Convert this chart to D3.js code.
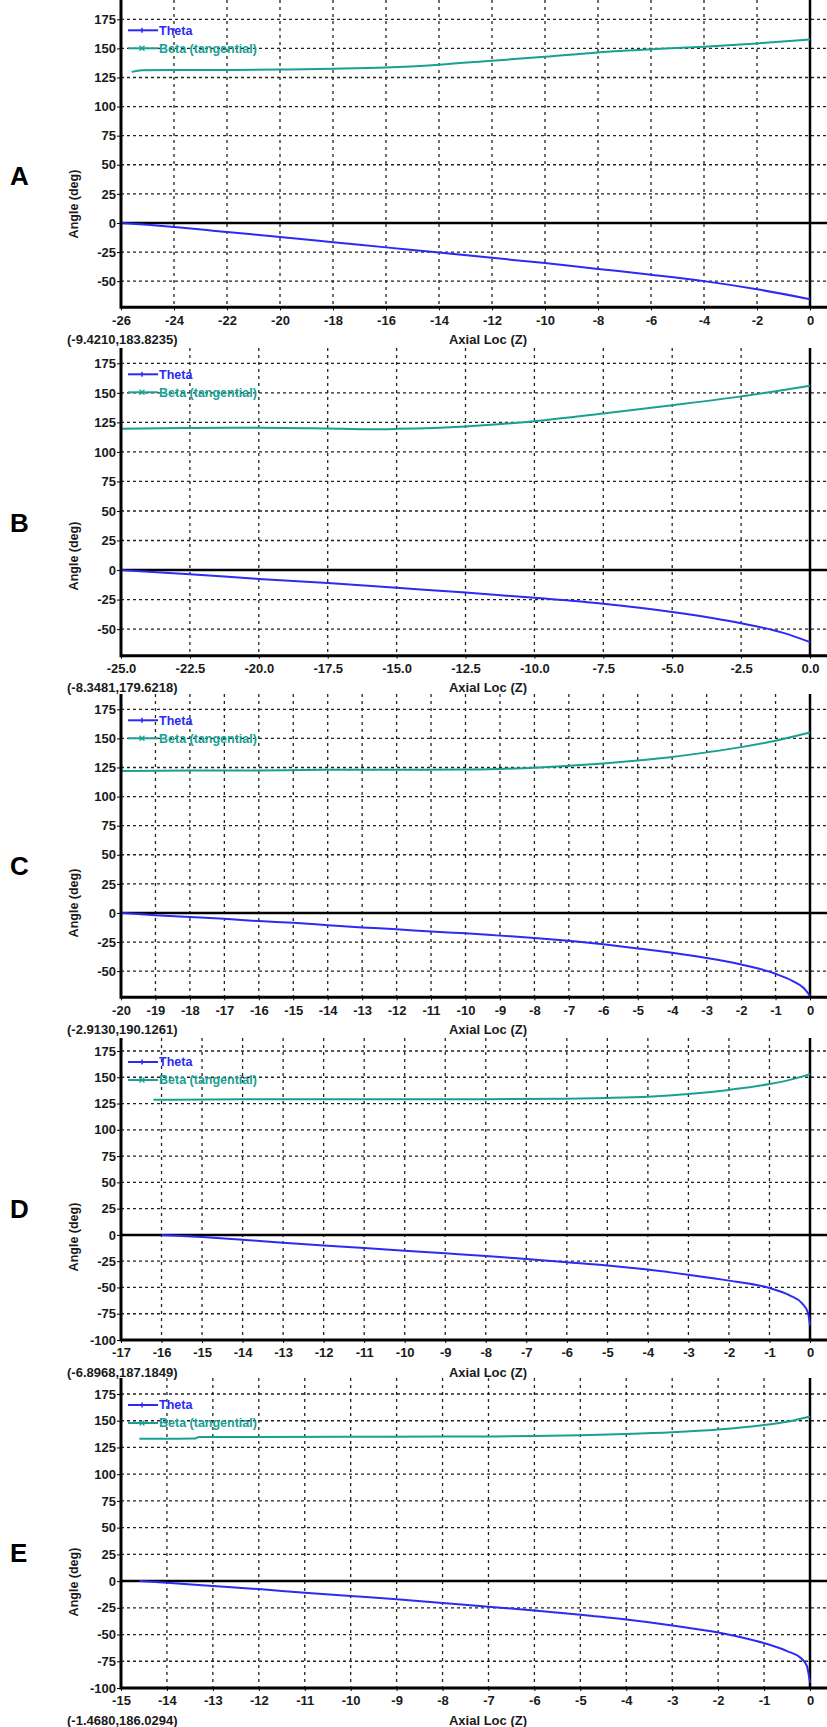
<!DOCTYPE html>
<html>
<head>
<meta charset="utf-8">
<script src="https://cdn.jsdelivr.net/npm/d3@7"></script>
<style>
  body { margin: 0; background: #fff; }
  svg text { font-family: "Liberation Sans", Arial, sans-serif; }
</style>
</head>
<body>
<svg id="chart" width="827" height="1727"></svg>
<script>
// ---- data ----
const panelLetters = ["A", "B", "C", "D", "E"];
const cursorLabels = [
  "(-9.4210,183.8235)",
  "(-8.3481,179.6218)",
  "(-2.9130,190.1261)",
  "(-6.8968,187.1849)",
  "(-1.4680,186.0294)",
];

const xTicksA = [-26, -24, -22, -20, -18, -16, -14, -12, -10, -8, -6, -4, -2, 0];
const xTicksB = [-25, -22.5, -20, -17.5, -15, -12.5, -10, -7.5, -5, -2.5, 0];
const xTicksC = [-20, -19, -18, -17, -16, -15, -14, -13, -12, -11, -10, -9, -8, -7, -6, -5, -4, -3, -2, -1, 0];
const xTicksD = [-17, -16, -15, -14, -13, -12, -11, -10, -9, -8, -7, -6, -5, -4, -3, -2, -1, 0];
const xTicksE = [-15, -14, -13, -12, -11, -10, -9, -8, -7, -6, -5, -4, -3, -2, -1, 0];

const yTicksShort = [175, 150, 125, 100, 75, 50, 25, 0, -25, -50];
const yTicksLong = [175, 150, 125, 100, 75, 50, 25, 0, -25, -50, -75, -100];

// [axial loc z, angle deg]
const thetaA = [[-26, 0], [-25, -1.6], [-24, -3.4], [-22, -7.8], [-20, -12], [-18, -16.5], [-16, -21], [-14, -25.5], [-12, -30], [-10, -34.5], [-8, -39.5], [-6, -44.5], [-4, -50], [-2, -57], [0, -65.5]];
const betaA = [[-25.6, 129.8], [-25.2, 131.3], [-24, 131.4], [-22, 131.4], [-20, 131.8], [-18, 132.5], [-16, 133.6], [-14, 136], [-12, 139.4], [-10, 142.8], [-8, 146.5], [-6, 149.2], [-4, 151.4], [-2, 154.3], [0, 157.7]];

const thetaB = [[-25, 0], [-22.5, -3.5], [-20, -7.5], [-17.5, -11], [-15, -15], [-12.5, -19], [-10, -23.5], [-7.5, -28.5], [-5, -35.5], [-2.5, -45], [-1, -53], [0, -61]];
const betaB = [[-25, 119.7], [-22.5, 120.3], [-20, 120.5], [-17.5, 119.8], [-16, 119.2], [-15, 119.5], [-12.5, 121.5], [-10, 126], [-7.5, 132.5], [-5, 139.5], [-2.5, 147], [0, 156]];

const thetaC = [[-20, 0], [-19, -2], [-18, -3.5], [-17, -5], [-16, -7], [-15, -8.5], [-14, -10.5], [-13, -12.5], [-12, -14], [-11, -16], [-10, -17.5], [-9, -19.5], [-8, -21.5], [-7, -24], [-6, -27], [-5, -30.5], [-4, -34.3], [-3, -38.8], [-2, -44.3], [-1.5, -47.8], [-1, -52.3], [-0.5, -58.5], [-0.2, -64], [0, -71]];
const betaC = [[-20, 122], [-18, 122.3], [-16, 122.5], [-14, 123], [-12, 123], [-10, 123.2], [-9, 123.8], [-8, 124.8], [-7, 126.5], [-6, 128.5], [-5, 131], [-4, 134], [-3, 138], [-2, 142.5], [-1, 148], [0, 155]];

const thetaD = [[-16, 0], [-15, -2], [-14, -4.5], [-13, -7.5], [-12, -10], [-11, -12.5], [-10, -15], [-9, -17.5], [-8, -20], [-7, -23], [-6, -26], [-5, -29], [-4, -33], [-3, -38], [-2, -43.5], [-1, -50.5], [-0.5, -57.5], [-0.2, -65], [-0.05, -74], [0, -86]];
const betaD = [[-16.2, 128.5], [-14, 129], [-12, 129], [-10, 129], [-8, 129.2], [-6, 129.6], [-5, 130.3], [-4, 131.5], [-3, 134], [-2, 138], [-1, 143.5], [-0.5, 147.5], [0, 153]];

const thetaE = [[-14.6, 0], [-14, -1.6], [-13, -4.5], [-12, -7.5], [-11, -11], [-10, -14], [-9, -17], [-8, -20.5], [-7, -24], [-6, -27.5], [-5, -31.5], [-4, -36], [-3, -41.5], [-2, -48], [-1.5, -52.5], [-1, -58], [-0.5, -65.5], [-0.2, -72], [-0.07, -79], [0, -95]];
const betaE = [[-14.6, 133.1], [-13.4, 133.3], [-13.3, 134.7], [-10, 135], [-8, 135.2], [-6, 135.6], [-5, 136.3], [-4, 137.5], [-3, 139.2], [-2, 141.8], [-1, 146], [-0.5, 149], [0, 154]];

const panels = [
  { xTicks: xTicksA, yTicks: yTicksShort, yMin: -72.5, theta: thetaA, beta: betaA, fmt: (d) => String(d) },
  { xTicks: xTicksB, yTicks: yTicksShort, yMin: -72.5, theta: thetaB, beta: betaB, fmt: (d) => d.toFixed(1) },
  { xTicks: xTicksC, yTicks: yTicksShort, yMin: -72.5, theta: thetaC, beta: betaC, fmt: (d) => String(d) },
  { xTicks: xTicksD, yTicks: yTicksLong, yMin: -100, theta: thetaD, beta: betaD, fmt: (d) => String(d) },
  { xTicks: xTicksE, yTicks: yTicksLong, yMin: -100, theta: thetaE, beta: betaE, fmt: (d) => String(d) },
];

// ---- layout (pixels) ----
const layout = [
  { top: 0, y175: 19.3, bottom: 307.3, letterY: 176, angleY: 204 },
  { top: 348, y175: 363.3, bottom: 655.7, letterY: 523, angleY: 556 },
  { top: 694, y175: 709.3, bottom: 997.3, letterY: 866, angleY: 903 },
  { top: 1038, y175: 1051, bottom: 1340, letterY: 1209, angleY: 1237 },
  { top: 1378, y175: 1394, bottom: 1688, letterY: 1553, angleY: 1582 },
];
const plotLeft = 121;
const plotZero = 810;
const plotRight = 827;

const thetaColor = "#2b2bf5";
const betaColor = "#1aa093";
const gridColor = "#222";

const svg = d3.select("#chart");

panels.forEach((p, i) => drawPanel(p, layout[i], i));

function drawPanel(p, L, i) {
  const x = d3.scaleLinear().domain([p.xTicks[0], 0]).range([plotLeft, plotZero]);
  const y = d3.scaleLinear().domain([p.yMin, 175]).range([L.bottom, L.y175]);
  const g = svg.append("g").attr("class", "panel");

  // dashed grid
  g.append("g")
    .selectAll("line")
    .data(p.xTicks.filter((d) => d !== 0 && d !== p.xTicks[0]))
    .join("line")
    .attr("x1", (d) => x(d))
    .attr("x2", (d) => x(d))
    .attr("y1", L.top)
    .attr("y2", L.bottom)
    .attr("stroke", gridColor)
    .attr("stroke-width", 1.3)
    .attr("stroke-dasharray", "3,4");

  g.append("g")
    .selectAll("line")
    .data(p.yTicks.filter((d) => d !== 0 && d !== p.yMin))
    .join("line")
    .attr("x1", plotLeft)
    .attr("x2", plotRight)
    .attr("y1", (d) => y(d))
    .attr("y2", (d) => y(d))
    .attr("stroke", gridColor)
    .attr("stroke-width", 1.3)
    .attr("stroke-dasharray", "3,3");

  // zero lines
  g.append("line")
    .attr("x1", plotLeft).attr("x2", plotRight)
    .attr("y1", y(0)).attr("y2", y(0))
    .attr("stroke", "#000").attr("stroke-width", 2.5);
  g.append("line")
    .attr("x1", x(0)).attr("x2", x(0))
    .attr("y1", L.top).attr("y2", L.bottom)
    .attr("stroke", "#000").attr("stroke-width", 2.5);

  // series
  const line = d3.line()
    .curve(d3.curveMonotoneX)
    .x((d) => x(d[0]))
    .y((d) => y(d[1]));

  g.append("path")
    .datum(p.beta)
    .attr("fill", "none")
    .attr("stroke", betaColor)
    .attr("stroke-width", 2)
    .attr("d", line);

  g.append("path")
    .datum(p.theta)
    .attr("fill", "none")
    .attr("stroke", thetaColor)
    .attr("stroke-width", 2)
    .attr("d", line);

  // axes
  const yAxis = d3.axisLeft(y).tickValues(p.yTicks).tickSize(4).tickPadding(1).tickFormat((d) => String(d));
  const yg = g.append("g").attr("transform", `translate(${plotLeft},0)`).call(yAxis);
  yg.select(".domain").remove();
  yg.selectAll("text").attr("font-size", 13).attr("font-weight", "bold").attr("fill", "#1a1a1a");
  yg.selectAll(".tick line").attr("stroke", "#000");

  const xAxis = d3.axisBottom(x).tickValues(p.xTicks).tickSize(3).tickPadding(5).tickFormat(p.fmt);
  const xg = g.append("g").attr("transform", `translate(0,${L.bottom})`).call(xAxis);
  xg.select(".domain").remove();
  xg.selectAll("text").attr("font-size", 13).attr("font-weight", "bold").attr("fill", "#1a1a1a");
  xg.selectAll(".tick line").attr("stroke", "#000");

  // thick frame lines
  g.append("line")
    .attr("x1", plotLeft).attr("x2", plotLeft)
    .attr("y1", L.top).attr("y2", L.bottom + 1.5)
    .attr("stroke", "#000").attr("stroke-width", 3);
  g.append("line")
    .attr("x1", plotLeft).attr("x2", plotRight)
    .attr("y1", L.bottom).attr("y2", L.bottom)
    .attr("stroke", "#000").attr("stroke-width", 3);

  // legend
  const legend = [
    { name: "Theta", color: thetaColor, dy: 11, mark: "plus" },
    { name: "Beta (tangential)", color: betaColor, dy: 29, mark: "cross" },
  ];
  legend.forEach((l) => {
    const ly = L.y175 + l.dy;
    g.append("line")
      .attr("x1", 128).attr("x2", 158)
      .attr("y1", ly).attr("y2", ly)
      .attr("stroke", l.color).attr("stroke-width", 2);
    if (l.mark === "plus") {
      g.append("line")
        .attr("x1", 142).attr("x2", 142)
        .attr("y1", ly - 2.5).attr("y2", ly + 2.5)
        .attr("stroke", l.color).attr("stroke-width", 1.5);
    } else {
      g.append("path")
        .attr("d", `M${139.5},${ly - 2.5}L${144.5},${ly + 2.5}M${139.5},${ly + 2.5}L${144.5},${ly - 2.5}`)
        .attr("stroke", l.color).attr("stroke-width", 1.3);
    }
    g.append("text")
      .attr("x", 159).attr("y", ly)
      .attr("dy", "0.35em")
      .attr("font-size", 12.5)
      .attr("font-weight", "bold")
      .attr("fill", l.color)
      .text(l.name);
  });

  // axis titles
  g.append("text")
    .attr("transform", `translate(74,${L.angleY}) rotate(-90)`)
    .attr("text-anchor", "middle")
    .attr("dy", "0.35em")
    .attr("font-size", 12.5)
    .attr("font-weight", "bold")
    .attr("fill", "#1a1a1a")
    .text("Angle (deg)");

  g.append("text")
    .attr("x", 488).attr("y", L.bottom + 32)
    .attr("dy", "0.35em")
    .attr("text-anchor", "middle")
    .attr("font-size", 13)
    .attr("font-weight", "bold")
    .attr("fill", "#1a1a1a")
    .text("Axial Loc (Z)");

  g.append("text")
    .attr("x", 67).attr("y", L.bottom + 32)
    .attr("dy", "0.35em")
    .attr("font-size", 13)
    .attr("font-weight", "bold")
    .attr("fill", "#1a1a1a")
    .text(cursorLabels[i]);

  // panel letter
  svg.append("text")
    .attr("x", 10).attr("y", L.letterY)
    .attr("dy", "0.35em")
    .attr("font-family", "'Liberation Serif', 'Times New Roman', serif")
    .attr("font-size", 26)
    .attr("font-weight", "bold")
    .attr("fill", "#000")
    .text(panelLetters[i]);
}
</script>
</body>
</html>
